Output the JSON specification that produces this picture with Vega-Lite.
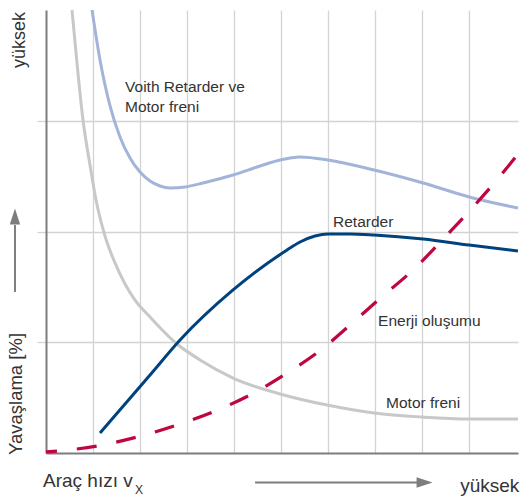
{
  "$schema": "https://vega.github.io/schema/vega-lite/v6.json",
  "width": 472,
  "height": 443,
  "autosize": "none",
  "padding": {"left": 46, "top": 10, "right": 5, "bottom": 43},
  "background": "white",
  "config": {"view": {"stroke": null}, "text": {"font": "Liberation Sans", "color": "#333333"}},
  "datasets": {
    "curves": [
      {"s": "motor", "x": 0.553, "y": 4.0}, {"s": "motor", "x": 0.653, "y": 3.549}, {"s": "motor", "x": 0.787, "y": 3.007},
      {"s": "motor", "x": 0.936, "y": 2.6}, {"s": "motor", "x": 1.064, "y": 2.284}, {"s": "motor", "x": 1.255, "y": 1.959},
      {"s": "motor", "x": 1.468, "y": 1.716}, {"s": "motor", "x": 1.681, "y": 1.526}, {"s": "motor", "x": 1.894, "y": 1.381},
      {"s": "motor", "x": 2.213, "y": 1.228}, {"s": "motor", "x": 2.787, "y": 0.984}, {"s": "motor", "x": 3.277, "y": 0.84},
      {"s": "motor", "x": 3.979, "y": 0.677}, {"s": "motor", "x": 4.979, "y": 0.533}, {"s": "motor", "x": 5.979, "y": 0.433},
      {"s": "motor", "x": 6.979, "y": 0.361}, {"s": "motor", "x": 8.0, "y": 0.325}, {"s": "motor", "x": 8.979, "y": 0.307},
      {"s": "motor", "x": 10.04, "y": 0.307},
      {"s": "voith", "x": 0.979, "y": 4.0}, {"s": "voith", "x": 1.149, "y": 3.549}, {"s": "voith", "x": 1.362, "y": 3.134},
      {"s": "voith", "x": 1.574, "y": 2.854}, {"s": "voith", "x": 1.787, "y": 2.664}, {"s": "voith", "x": 2.0, "y": 2.537},
      {"s": "voith", "x": 2.213, "y": 2.456}, {"s": "voith", "x": 2.426, "y": 2.411}, {"s": "voith", "x": 2.638, "y": 2.393},
      {"s": "voith", "x": 2.957, "y": 2.402},
      {"s": "voith", "x": 3.34, "y": 2.438}, {"s": "voith", "x": 3.979, "y": 2.51}, {"s": "voith", "x": 4.553, "y": 2.591},
      {"s": "voith", "x": 4.979, "y": 2.646}, {"s": "voith", "x": 5.404, "y": 2.673}, {"s": "voith", "x": 6.0, "y": 2.646},
      {"s": "voith", "x": 6.979, "y": 2.555}, {"s": "voith", "x": 8.021, "y": 2.438}, {"s": "voith", "x": 9.0, "y": 2.312},
      {"s": "voith", "x": 10.04, "y": 2.212},
      {"s": "retarder", "x": 1.149, "y": 0.181}, {"s": "retarder", "x": 2.213, "y": 0.704}, {"s": "retarder", "x": 2.851, "y": 1.02},
      {"s": "retarder", "x": 3.979, "y": 1.472}, {"s": "retarder", "x": 5.128, "y": 1.833}, {"s": "retarder", "x": 5.404, "y": 1.905},
      {"s": "retarder", "x": 5.723, "y": 1.959}, {"s": "retarder", "x": 6.0, "y": 1.977}, {"s": "retarder", "x": 6.468, "y": 1.977},
      {"s": "retarder", "x": 6.979, "y": 1.968}, {"s": "retarder", "x": 8.021, "y": 1.932}, {"s": "retarder", "x": 9.0, "y": 1.878},
      {"s": "retarder", "x": 10.04, "y": 1.824},
      {"s": "enerji", "x": 0.0, "y": 0.009}, {"s": "enerji", "x": 1.085, "y": 0.063}, {"s": "enerji", "x": 1.936, "y": 0.144},
      {"s": "enerji", "x": 2.787, "y": 0.253}, {"s": "enerji", "x": 3.596, "y": 0.379}, {"s": "enerji", "x": 4.34, "y": 0.524},
      {"s": "enerji", "x": 5.128, "y": 0.722}, {"s": "enerji", "x": 5.872, "y": 0.939}, {"s": "enerji", "x": 6.468, "y": 1.156},
      {"s": "enerji", "x": 7.064, "y": 1.381}, {"s": "enerji", "x": 7.851, "y": 1.67}, {"s": "enerji", "x": 8.447, "y": 1.932},
      {"s": "enerji", "x": 9.085, "y": 2.221}, {"s": "enerji", "x": 9.66, "y": 2.501}, {"s": "enerji", "x": 10.04, "y": 2.7}
    ],
    "notes": [
      {"x": 1.681, "y": 3.26, "t": "Voith Retarder ve"},
      {"x": 1.681, "y": 3.079, "t": "Motor freni"},
      {"x": 6.106, "y": 2.041, "t": "Retarder"},
      {"x": 7.064, "y": 1.147, "t": "Enerji oluşumu"},
      {"x": 7.234, "y": 0.406, "t": "Motor freni"}
    ],
    "axisText": [
      {"x": -0.064, "y": -0.307, "t": "Araç hızı v"},
      {"x": 8.809, "y": -0.349, "t": "yüksek"}
    ],
    "subText": [
      {"x": 1.894, "y": -0.366, "t": "X"}
    ],
    "rotBig": [
      {"x": -0.5, "y": -0.018, "t": "Yavaşlama [%]"}
    ],
    "rotSmall": [
      {"x": -0.457, "y": 3.476, "t": "yüksek"}
    ],
    "arrows": [
      {"x": 4.447, "xe": 7.894, "y": -0.266, "ye": -0.266},
      {"x": -0.66, "xe": -0.66, "y": 1.454, "ye": 2.059}
    ],
    "heads": [
      {"x": 8.053, "y": -0.266, "dir": "right"},
      {"x": -0.66, "y": 2.135, "dir": "up"}
    ]
  },
  "encoding": {
    "x": {
      "field": "x", "type": "quantitative",
      "scale": {"domain": [0, 10.04], "nice": false, "zero": false},
      "axis": {"values": [1, 2, 3, 4, 5, 6, 7, 8, 9], "grid": true, "gridColor": "#d3d3d3", "gridWidth": 1.3,
               "ticks": false, "labels": false, "title": null, "domainColor": "#7d7d7d", "domainWidth": 2}
    },
    "y": {
      "field": "y", "type": "quantitative",
      "scale": {"domain": [0, 4], "nice": false, "zero": false},
      "axis": {"values": [1, 2, 3], "grid": true, "gridColor": "#d3d3d3", "gridWidth": 1.3,
               "ticks": true, "tickSize": 9, "tickColor": "#d3d3d3", "tickWidth": 1.3,
               "labels": false, "title": null, "domainColor": "#7d7d7d", "domainWidth": 2}
    }
  },
  "layer": [
    {
      "data": {"name": "curves"},
      "transform": [{"filter": "datum.s === 'motor'"}],
      "mark": {"type": "line", "interpolate": "monotone", "color": "#c8c8c8", "strokeWidth": 3},
      "encoding": {}
    },
    {
      "data": {"name": "curves"},
      "transform": [{"filter": "datum.s === 'voith'"}],
      "mark": {"type": "line", "interpolate": "monotone", "color": "#a3b4da", "strokeWidth": 3},
      "encoding": {}
    },
    {
      "data": {"name": "curves"},
      "transform": [{"filter": "datum.s === 'retarder'"}],
      "mark": {"type": "line", "interpolate": "monotone", "color": "#00427e", "strokeWidth": 3},
      "encoding": {}
    },
    {
      "data": {"name": "curves"},
      "transform": [{"filter": "datum.s === 'enerji'"}],
      "mark": {"type": "line", "interpolate": "monotone", "color": "#c0063e", "strokeWidth": 3.2, "strokeDash": [20, 20], "strokeDashOffset": 9},
      "encoding": {}
    },
    {
      "data": {"name": "notes"},
      "mark": {"type": "text", "fontSize": 15.5, "align": "left", "baseline": "alphabetic"},
      "encoding": {"text": {"field": "t"}}
    },
    {
      "data": {"name": "axisText"},
      "mark": {"type": "text", "fontSize": 19, "align": "left", "baseline": "alphabetic"},
      "encoding": {"text": {"field": "t"}}
    },
    {
      "data": {"name": "subText"},
      "mark": {"type": "text", "fontSize": 12, "align": "left", "baseline": "alphabetic"},
      "encoding": {"text": {"field": "t"}}
    },
    {
      "data": {"name": "rotBig"},
      "mark": {"type": "text", "fontSize": 18.5, "angle": 270, "align": "left", "baseline": "alphabetic"},
      "encoding": {"text": {"field": "t"}}
    },
    {
      "data": {"name": "rotSmall"},
      "mark": {"type": "text", "fontSize": 18, "angle": 270, "align": "left", "baseline": "alphabetic"},
      "encoding": {"text": {"field": "t"}}
    },
    {
      "data": {"name": "arrows"},
      "mark": {"type": "rule", "color": "#7d7d7d", "strokeWidth": 2},
      "encoding": {"x2": {"field": "xe"}, "y2": {"field": "ye"}}
    },
    {
      "data": {"name": "heads"},
      "mark": {"type": "point", "filled": true, "opacity": 1, "color": "#7d7d7d", "size": 256},
      "encoding": {
        "shape": {"field": "dir", "type": "nominal", "legend": null,
                  "scale": {"domain": ["right", "up"], "range": ["M-1,-0.65L1,0L-1,0.65Z", "M-0.65,1L0,-1L0.65,1Z"]}}
      }
    }
  ]
}
